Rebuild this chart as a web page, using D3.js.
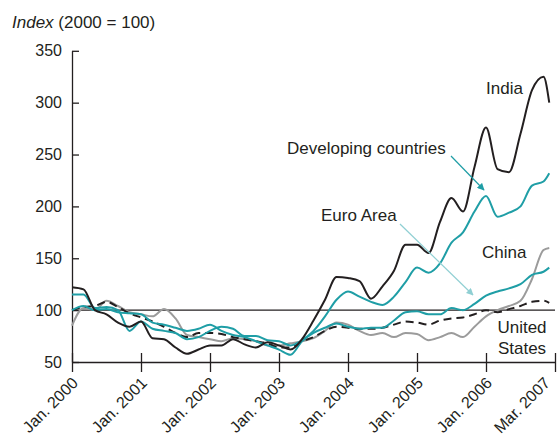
<!DOCTYPE html>
<html>
<head>
<meta charset="utf-8">
<script src="https://cdn.jsdelivr.net/npm/d3@7"></script>
<style>
  body { margin: 0; background: #fff; }
  text { font-family: "Liberation Sans", Arial, sans-serif; fill: #231f20; }
</style>
</head>
<body>
<div id="chart"></div>
<script>
// Data: months since Jan. 2000, index values (2000 = 100)
const months = [0, 2, 4, 6, 8, 10, 12, 14, 16, 18, 20, 22, 24, 26, 28, 30, 32, 34, 36, 38, 40,
  42, 44, 46, 48, 50, 52, 54, 56, 58, 60, 62, 64, 66, 68, 70, 72, 74, 76, 78, 80, 82, 83];

const india = [122, 120, 100, 96, 88, 84, 89, 73, 72, 64, 58, 62, 66, 66, 72, 67, 64, 69, 66, 62, 72,
  90, 110, 132, 131, 128, 111, 123, 138, 163, 163, 155, 185, 208, 195, 238, 276, 236, 233, 270, 312, 325, 300];
const developing = [115, 115, 102, 103, 100, 80, 89, 82, 80, 78, 72, 74, 80, 84, 82, 75, 75, 71, 70, 66, 71,
  80, 94, 110, 118, 113, 108, 105, 113, 127, 141, 136, 145, 165, 175, 195, 210, 190, 194, 200, 220, 224, 232];
const euroArea = [100, 104, 100, 101, 98, 97, 96, 88, 86, 83, 80, 82, 86, 80, 76, 74, 70, 66, 62, 57, 70,
  78, 83, 87, 84, 82, 83, 83, 90, 98, 99, 96, 96, 102, 100, 106, 114, 118, 121, 125, 134, 137, 141];
const china = [85, 102, 100, 109, 104, 98, 96, 94, 101, 92, 76, 74, 72, 70, 73, 72, 70, 66, 66, 68, 70,
  73, 80, 88, 86, 80, 76, 78, 74, 78, 77, 71, 74, 78, 74, 84, 94, 100, 104, 109, 130, 158, 160];
const unitedStates = [100, 103, 104, 108, 103, 97, 93, 89, 84, 78, 74, 78, 78, 77, 74, 72, 70, 68, 64, 64, 70,
  74, 80, 84, 83, 82, 82, 83, 86, 89, 88, 86, 90, 92, 93, 96, 100, 98, 101, 104, 108, 109, 107];

const xTicks = [0, 12, 24, 36, 48, 60, 72, 84];
const xTickLabels = ["Jan. 2000", "Jan. 2001", "Jan. 2002", "Jan. 2003", "Jan. 2004", "Jan. 2005", "Jan. 2006", "Mar. 2007"];
const yTicks = [50, 100, 150, 200, 250, 300, 350];

// Dimensions
const dimensions = { width: 557, height: 438, left: 72, right: 555, top: 50.8, bottom: 362 };

const svg = d3.select("#chart").append("svg")
  .attr("width", dimensions.width)
  .attr("height", dimensions.height);

// Scales
const xScale = d3.scaleLinear().domain([0, 84]).range([dimensions.left, dimensions.right]);
const yScale = d3.scaleLinear().domain([50, 350]).range([dimensions.bottom, dimensions.top]);

// Title
const title = svg.append("text").attr("x", 12).attr("y", 28).style("font-size", "17px");
title.append("tspan").style("font-style", "italic").text("Index");
title.append("tspan").text(" (2000 = 100)");

// Y axis
const yAxis = d3.axisLeft(yScale).tickValues(yTicks).tickSizeInner(-7).tickSizeOuter(0).tickPadding(10);
const yAxisGroup = svg.append("g").attr("transform", `translate(${dimensions.left},0)`).call(yAxis);
yAxisGroup.selectAll("text").style("font-size", "16px");

// X axis
const xAxis = d3.axisBottom(xScale).tickValues(xTicks).tickSizeInner(10).tickSizeOuter(0).tickFormat("");
const xAxisGroup = svg.append("g").attr("transform", `translate(0,${dimensions.bottom})`).call(xAxis);
xAxisGroup.selectAll(".tick line").attr("y1", -9);

svg.selectAll(".domain, .tick line").attr("stroke", "#231f20").attr("stroke-width", 1.3);

svg.append("g").selectAll("text")
  .data(xTicks)
  .join("text")
  .attr("text-anchor", "end")
  .attr("transform", (d) => `translate(${Math.min(xScale(d) + 7, 551)},${dimensions.bottom + 22}) rotate(-45)`)
  .style("font-size", "16px")
  .text((d, i) => xTickLabels[i]);

// Reference line at 100
svg.append("line")
  .attr("x1", dimensions.left).attr("x2", dimensions.right)
  .attr("y1", yScale(100)).attr("y2", yScale(100))
  .attr("stroke", "#231f20").attr("stroke-width", 1.2);

// Lines
const line = d3.line()
  .x((d) => xScale(d[0]))
  .y((d) => yScale(d[1]))
  .curve(d3.curveMonotoneX);

const series = [
  { values: china, color: "#9b9b9b", dash: null },
  { values: unitedStates, color: "#231f20", dash: "8,5" },
  { values: euroArea, color: "#1f9ea6", dash: null },
  { values: developing, color: "#1f9ea6", dash: null },
  { values: india, color: "#231f20", dash: null },
];

svg.append("g").selectAll("path")
  .data(series)
  .join("path")
  .attr("fill", "none")
  .attr("stroke", (d) => d.color)
  .attr("stroke-width", 2)
  .attr("stroke-dasharray", (d) => d.dash)
  .attr("stroke-linejoin", "round")
  .attr("d", (d) => line(months.map((m, i) => [m, d.values[i]])));

// Arrows
const defs = svg.append("defs");
[["dev", "#1f9ea6"], ["euro", "#8fcfd3"]].forEach(([id, c]) => {
  defs.append("marker")
    .attr("id", `arrow-${id}`)
    .attr("viewBox", "0 0 10 10")
    .attr("refX", 9).attr("refY", 5)
    .attr("markerWidth", 6).attr("markerHeight", 6)
    .attr("orient", "auto")
    .append("path").attr("d", "M0,0L10,5L0,10z").attr("fill", c);
});

svg.append("line")
  .attr("x1", 451).attr("y1", 156).attr("x2", 484).attr("y2", 190)
  .attr("stroke", "#1f9ea6").attr("stroke-width", 1.2)
  .attr("marker-end", "url(#arrow-dev)");
svg.append("line")
  .attr("x1", 400).attr("y1", 224).attr("x2", 473).attr("y2", 295)
  .attr("stroke", "#8fcfd3").attr("stroke-width", 1.2)
  .attr("marker-end", "url(#arrow-euro)");

// Labels
const labels = [
  { text: "India", x: 486, y: 94 },
  { text: "Developing countries", x: 287, y: 154 },
  { text: "Euro Area", x: 321, y: 221 },
  { text: "China", x: 482, y: 258 },
];
svg.append("g").selectAll("text")
  .data(labels)
  .join("text")
  .attr("x", (d) => d.x)
  .attr("y", (d) => d.y)
  .style("font-size", "17px")
  .text((d) => d.text);

const us = svg.append("text").attr("x", 522).attr("y", 333).attr("text-anchor", "middle").style("font-size", "17px");
us.append("tspan").attr("x", 522).text("United");
us.append("tspan").attr("x", 522).attr("y", 354).text("States");
</script>
</body>
</html>
